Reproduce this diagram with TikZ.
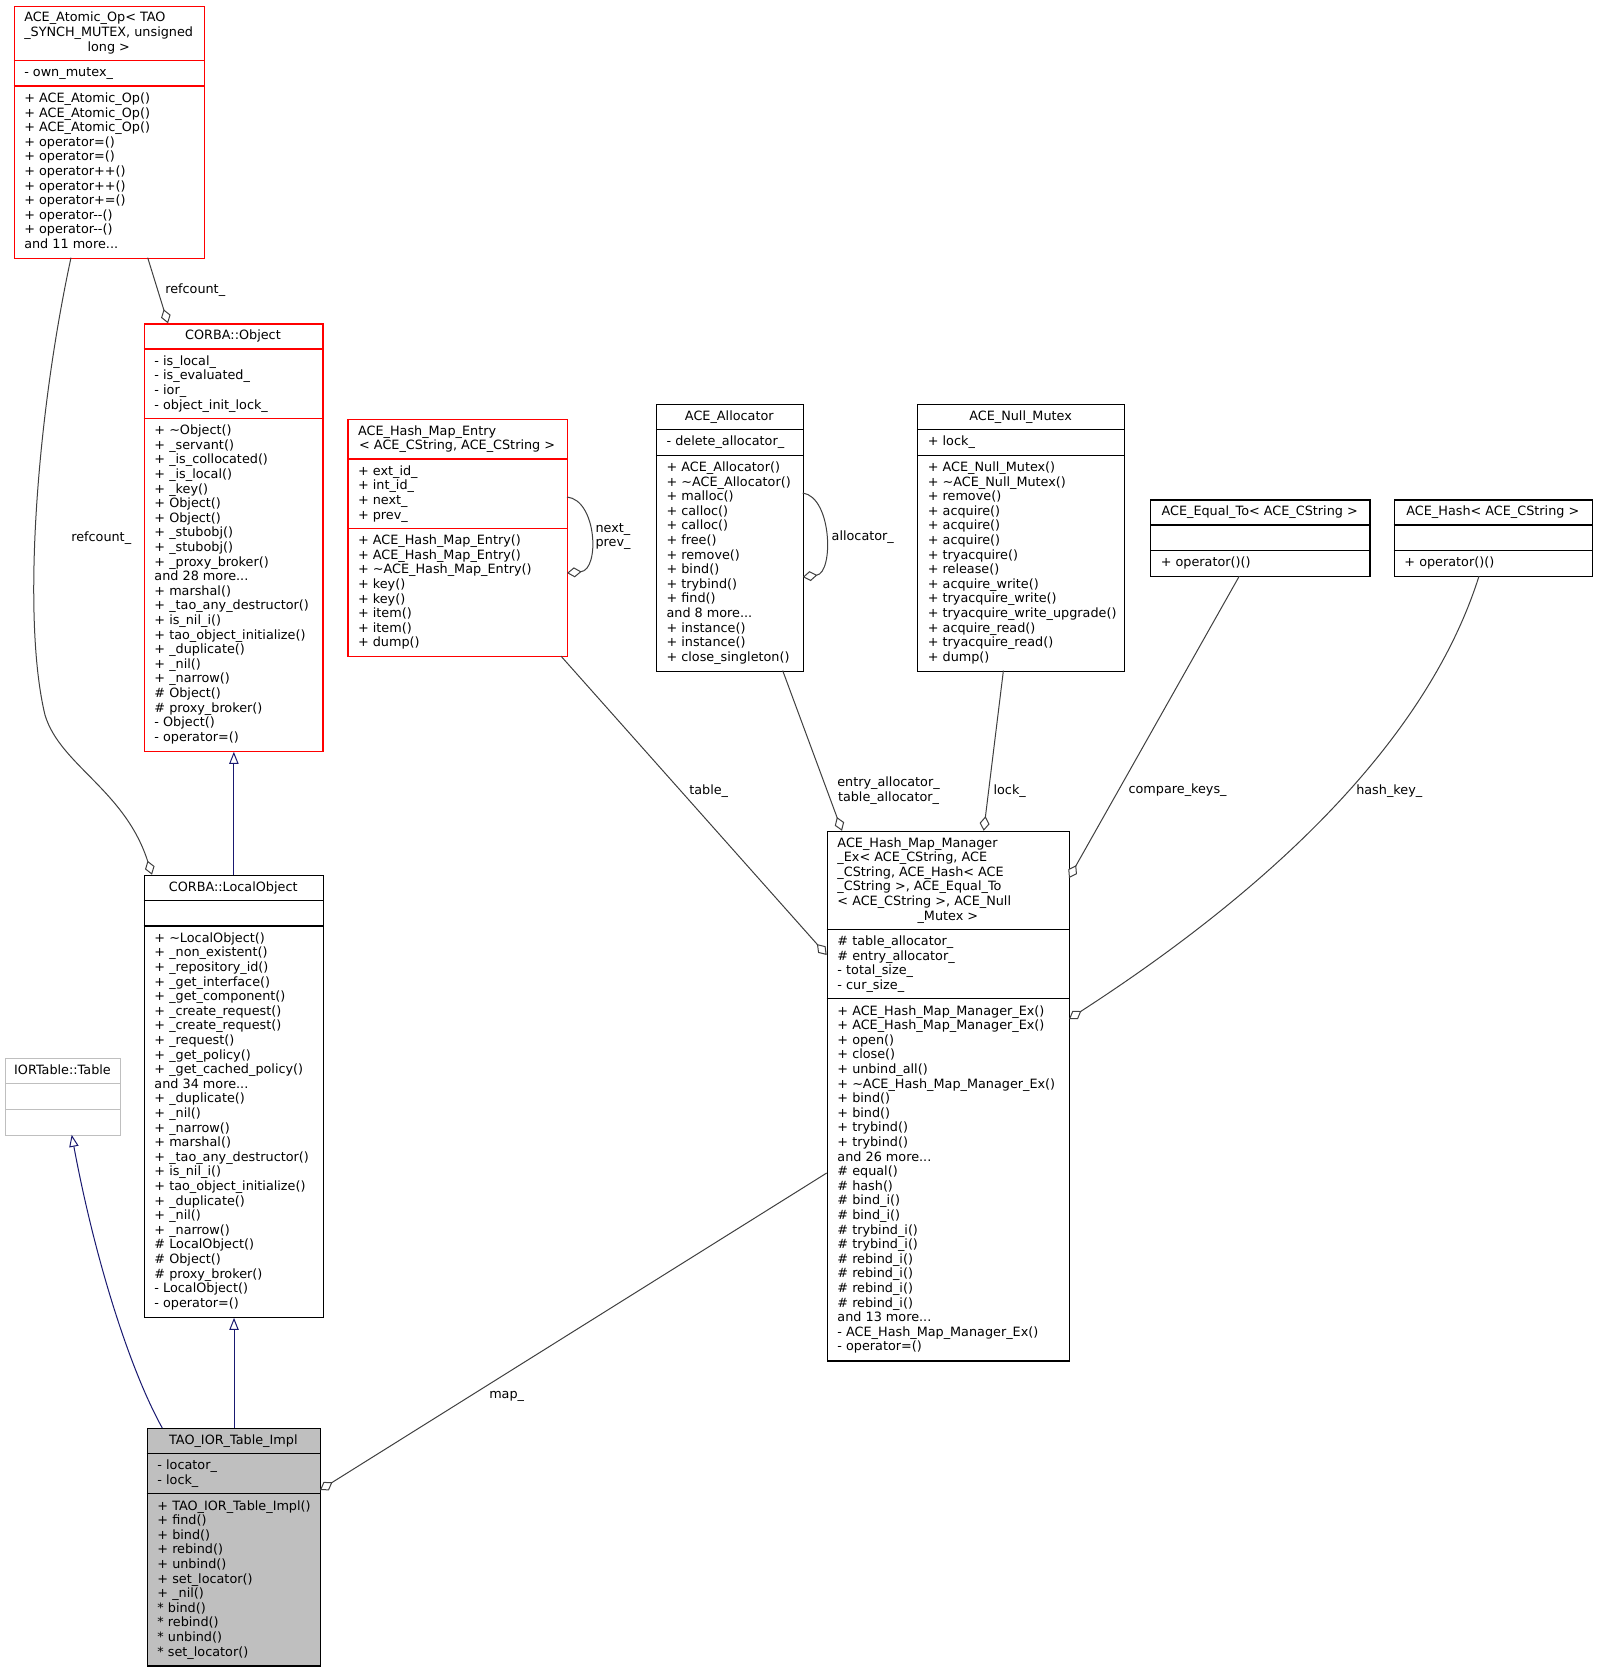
\documentclass[tikz,border=0pt]{standalone}
\usepackage{fontspec}
\setmainfont{DejaVu Sans}
\usetikzlibrary{arrows.meta}
\definecolor{edgegray}{HTML}{404040}
\definecolor{inhblue}{HTML}{191970}
\definecolor{boxgray}{HTML}{BFBFBF}
\definecolor{boxred}{HTML}{FF0000}
\newcommand\lines[1]{\begin{tabular}[t]{@{}l@{}}#1\end{tabular}}
\newcommand\clines[1]{\begin{tabular}[t]{@{}c@{}}#1\end{tabular}}
\newcommand\frm[6]{\node[#2, anchor=north west, minimum width=#5*0.75pt, minimum height=#6*0.75pt] (#1) at (#3,#4) {};}
\begin{document}
\begin{tikzpicture}[x=0.75pt,y=-0.75pt,
  redbox/.style={draw=boxred, line width=1pt, inner sep=0},
  blackbox/.style={draw=black, line width=1pt, inner sep=0},
  graybox/.style={draw=boxgray, line width=1pt, inner sep=0},
  taobox/.style={draw=black, fill=boxgray, line width=1pt, inner sep=0},
  redsep/.style={draw=boxred, line width=1pt},
  blacksep/.style={draw=black, line width=1pt},
  graysep/.style={draw=boxgray, line width=1pt},
  txt/.style={inner sep=0, font=\fontsize{9.6}{10.95}\selectfont},
  agg/.style={draw=edgegray, line width=0.75pt, -{Diamond[length=11pt,width=7.5pt,fill=white]}},
  inh/.style={draw=inhblue, line width=0.75pt, -{Triangle[length=9pt,width=7pt,fill=white]}}]
\fill[white] (0,0) rectangle (1597,1672);
\useasboundingbox (0,0) rectangle (1597,1672);

% ---------- ACE_Atomic_Op ----------
\frm{atomic}{redbox}{13.5}{5.7}{190.5}{252}
\draw[redsep] (13.5,60.5) -- (204,60.5);
\draw[redsep] (13.5,86.1) -- (204,86.1);
\node[txt, anchor=base west] (atomicT) at (24,21.9) {\lines{ACE\_Atomic\_Op< TAO\\\_SYNCH\_MUTEX, unsigned}};
\node[txt, anchor=base] (atomicT2) at (108.75,51.1) {long >};
\node[txt, anchor=base west] (atomicA) at (24,76.8) {- own\_mutex\_};
\node[txt, anchor=base west] (atomicO) at (24,102.4) {\lines{+ ACE\_Atomic\_Op()\\+ ACE\_Atomic\_Op()\\+ ACE\_Atomic\_Op()\\+ operator=()\\+ operator=()\\+ operator++()\\+ operator++()\\+ operator+=()\\+ operator-{}-()\\+ operator-{}-()\\and 11 more...}};

% ---------- CORBA::Object ----------
\frm{object}{redbox}{143.7}{323.3}{178.6}{427.2}
\draw[redsep] (143.7,348.9) -- (322.3,348.9);
\draw[redsep] (143.7,418.3) -- (322.3,418.3);
\node[txt, anchor=base] (objectT) at (233,339.6) {CORBA::Object};
\node[txt, anchor=base west] (objectA) at (154.2,365.2) {\lines{- is\_local\_\\- is\_evaluated\_\\- ior\_\\- object\_init\_lock\_}};
\node[txt, anchor=base west] (objectO) at (154.2,434.6) {\lines{+ \textasciitilde Object()\\+ \_servant()\\+ \_is\_collocated()\\+ \_is\_local()\\+ \_key()\\+ Object()\\+ Object()\\+ \_stubobj()\\+ \_stubobj()\\+ \_proxy\_broker()\\and 28 more...\\+ marshal()\\+ \_tao\_any\_destructor()\\+ is\_nil\_i()\\+ tao\_object\_initialize()\\+ \_duplicate()\\+ \_nil()\\+ \_narrow()\\\# Object()\\\# proxy\_broker()\\- Object()\\- operator=()}};

% ---------- ACE_Hash_Map_Entry ----------
\frm{hme}{redbox}{347.3}{418.7}{219.7}{237.4}
\draw[redsep] (347.3,458.9) -- (567,458.9);
\draw[redsep] (347.3,528.3) -- (567,528.3);
\node[txt, anchor=base west] (hmeT) at (357.8,435) {ACE\_Hash\_Map\_Entry};
\node[txt, anchor=base] (hmeT2) at (457.15,449.6) {< ACE\_CString, ACE\_CString >};
\node[txt, anchor=base west] (hmeA) at (357.8,475.2) {\lines{+ ext\_id\_\\+ int\_id\_\\+ next\_\\+ prev\_}};
\node[txt, anchor=base west] (hmeO) at (357.8,544.6) {\lines{+ ACE\_Hash\_Map\_Entry()\\+ ACE\_Hash\_Map\_Entry()\\+ \textasciitilde ACE\_Hash\_Map\_Entry()\\+ key()\\+ key()\\+ item()\\+ item()\\+ dump()}};

% ---------- ACE_Allocator ----------
\frm{alloc}{blackbox}{655.8}{404}{147}{266.6}
\draw[blacksep] (655.8,429.6) -- (802.8,429.6);
\draw[blacksep] (655.8,455.2) -- (802.8,455.2);
\node[txt, anchor=base] (allocT) at (729.3,420.3) {ACE\_Allocator};
\node[txt, anchor=base west] (allocA) at (666.3,445.9) {- delete\_allocator\_};
\node[txt, anchor=base west] (allocO) at (666.3,471.5) {\lines{+ ACE\_Allocator()\\+ \textasciitilde ACE\_Allocator()\\+ malloc()\\+ calloc()\\+ calloc()\\+ free()\\+ remove()\\+ bind()\\+ trybind()\\+ find()\\and 8 more...\\+ instance()\\+ instance()\\+ close\_singleton()}};

% ---------- ACE_Null_Mutex ----------
\frm{mutex}{blackbox}{917.1}{404}{207}{266.6}
\draw[blacksep] (917.1,429.6) -- (1124.1,429.6);
\draw[blacksep] (917.1,455.2) -- (1124.1,455.2);
\node[txt, anchor=base] (mutexT) at (1020.6,420.3) {ACE\_Null\_Mutex};
\node[txt, anchor=base west] (mutexA) at (927.6,445.9) {+ lock\_};
\node[txt, anchor=base west] (mutexO) at (927.6,471.5) {\lines{+ ACE\_Null\_Mutex()\\+ \textasciitilde ACE\_Null\_Mutex()\\+ remove()\\+ acquire()\\+ acquire()\\+ acquire()\\+ tryacquire()\\+ release()\\+ acquire\_write()\\+ tryacquire\_write()\\+ tryacquire\_write\_upgrade()\\+ acquire\_read()\\+ tryacquire\_read()\\+ dump()}};

% ---------- ACE_Equal_To ----------
\frm{equal}{blackbox}{1150}{499.3}{219.3}{76.8}
\draw[blacksep] (1150,524.9) -- (1369.3,524.9);
\draw[blacksep] (1150,550.5) -- (1369.3,550.5);
\node[txt, anchor=base] (equalT) at (1259.65,515.6) {ACE\_Equal\_To< ACE\_CString >};
\node[txt, anchor=base west] (equalO) at (1160.5,566.8) {+ operator()()};

% ---------- ACE_Hash ----------
\frm{hash}{blackbox}{1393.7}{499.3}{198.3}{76.8}
\draw[blacksep] (1393.7,524.9) -- (1592,524.9);
\draw[blacksep] (1393.7,550.5) -- (1592,550.5);
\node[txt, anchor=base] (hashT) at (1492.85,515.6) {ACE\_Hash< ACE\_CString >};
\node[txt, anchor=base west] (hashO) at (1404.2,566.8) {+ operator()()};

% ---------- ACE_Hash_Map_Manager_Ex ----------
\frm{hmm}{blackbox}{826.7}{830.8}{242.3}{529.4}
\draw[blacksep] (826.7,929.4) -- (1069,929.4);
\draw[blacksep] (826.7,998.8) -- (1069,998.8);
\node[txt, anchor=base west] (hmmT) at (837.2,847.1) {\lines{ACE\_Hash\_Map\_Manager\\\_Ex< ACE\_CString, ACE\\\_CString, ACE\_Hash< ACE\\\_CString >, ACE\_Equal\_To\\< ACE\_CString >, ACE\_Null}};
\node[txt, anchor=base] (hmmT2) at (947.85,920.1) {\_Mutex >};
\node[txt, anchor=base west] (hmmA) at (837.2,945.7) {\lines{\# table\_allocator\_\\\# entry\_allocator\_\\- total\_size\_\\- cur\_size\_}};
\node[txt, anchor=base west] (hmmO) at (837.2,1015.1) {\lines{+ ACE\_Hash\_Map\_Manager\_Ex()\\+ ACE\_Hash\_Map\_Manager\_Ex()\\+ open()\\+ close()\\+ unbind\_all()\\+ \textasciitilde ACE\_Hash\_Map\_Manager\_Ex()\\+ bind()\\+ bind()\\+ trybind()\\+ trybind()\\and 26 more...\\\# equal()\\\# hash()\\\# bind\_i()\\\# bind\_i()\\\# trybind\_i()\\\# trybind\_i()\\\# rebind\_i()\\\# rebind\_i()\\\# rebind\_i()\\\# rebind\_i()\\and 13 more...\\- ACE\_Hash\_Map\_Manager\_Ex()\\- operator=()}};

% ---------- CORBA::LocalObject ----------
\frm{local}{blackbox}{143.7}{874.7}{179}{441.8}
\draw[blacksep] (143.7,900.3) -- (322.7,900.3);
\draw[blacksep] (143.7,925.9) -- (322.7,925.9);
\node[txt, anchor=base] (localT) at (233.2,891) {CORBA::LocalObject};
\node[txt, anchor=base west] (localO) at (154.2,942.2) {\lines{+ \textasciitilde LocalObject()\\+ \_non\_existent()\\+ \_repository\_id()\\+ \_get\_interface()\\+ \_get\_component()\\+ \_create\_request()\\+ \_create\_request()\\+ \_request()\\+ \_get\_policy()\\+ \_get\_cached\_policy()\\and 34 more...\\+ \_duplicate()\\+ \_nil()\\+ \_narrow()\\+ marshal()\\+ \_tao\_any\_destructor()\\+ is\_nil\_i()\\+ tao\_object\_initialize()\\+ \_duplicate()\\+ \_nil()\\+ \_narrow()\\\# LocalObject()\\\# Object()\\\# proxy\_broker()\\- LocalObject()\\- operator=()}};

% ---------- IORTable::Table ----------
\frm{iortable}{graybox}{5}{1058}{115}{76.8}
\draw[graysep] (5,1083.6) -- (120,1083.6);
\draw[graysep] (5,1109.2) -- (120,1109.2);
\node[txt, anchor=base] (iortableT) at (62.5,1074.3) {IORTable::Table};

% ---------- TAO_IOR_Table_Impl ----------
\frm{tao}{taobox}{146.7}{1428}{173.3}{237.4}
\draw[blacksep] (146.7,1453.6) -- (320,1453.6);
\draw[blacksep] (146.7,1493.8) -- (320,1493.8);
\node[txt, anchor=base] (taoT) at (233.35,1444.3) {TAO\_IOR\_Table\_Impl};
\node[txt, anchor=base west] (taoA) at (157.2,1469.9) {\lines{- locator\_\\- lock\_}};
\node[txt, anchor=base west] (taoO) at (157.2,1510.1) {\lines{+ TAO\_IOR\_Table\_Impl()\\+ find()\\+ bind()\\+ rebind()\\+ unbind()\\+ set\_locator()\\+ \_nil()\\{*} bind()\\{*} rebind()\\{*} unbind()\\{*} set\_locator()}};

% ---------- connector end points ----------
\coordinate (rc1s) at (147.7,257.7);
\coordinate (rc1e) at (168,323.3);
\coordinate (rc2s) at (71,257.7);
\coordinate (rc2e) at (152,874.7);
\coordinate (npS) at (567,497);
\coordinate (npE) at (567,573);
\coordinate (alS) at (802.8,493);
\coordinate (alE) at (802.8,577);
\coordinate (tblS) at (561,656.1);
\coordinate (tblE) at (826.7,955);
\coordinate (eaS) at (782.7,670.6);
\coordinate (eaE) at (842,830.8);
\coordinate (lkS) at (1003.4,670.6);
\coordinate (lkE) at (983.7,830.8);
\coordinate (ckS) at (1239.3,576.1);
\coordinate (ckE) at (1069,878);
\coordinate (hkS) at (1479,576.1);
\coordinate (hkE) at (1069,1019);
\coordinate (mapS) at (826.7,1173);
\coordinate (mapE) at (320,1490);
\coordinate (iorS) at (162.3,1428);
\coordinate (iorE) at (71.7,1134.8);

% ---------- inheritance ----------
\draw[inh] (local.north) -- (local.north |- object.south);
\draw[inh] (tao.north) -- (tao.north |- local.south);
\draw[inh] (iorS) .. controls (130,1370) and (95,1260) .. (iorE);

% ---------- aggregations ----------
\draw[agg] (rc1s) -- (rc1e);
\draw[agg] (rc2s) .. controls (36,420) and (22,620) .. (45,715) .. controls (60,765) and (125,790) .. (rc2e);
\draw[agg] (npS) .. controls (597,500) and (600,570) .. (npE);
\draw[agg] (alS) .. controls (832,497) and (834,573) .. (alE);
\draw[agg] (tblS) -- (tblE);
\draw[agg] (eaS) -- (eaE);
\draw[agg] (lkS) -- (lkE);
\draw[agg] (ckS) -- (ckE);
\draw[agg] (hkS) .. controls (1440,700) and (1330,850) .. (hkE);
\draw[agg] (mapS) -- (mapE);

% ---------- labels ----------
\node[txt, anchor=base west] (lrc1) at (165,293.3) {refcount\_};
\node[txt, anchor=base west] (lrc2) at (71,541) {refcount\_};
\node[txt, anchor=base] (lnp) at (613,532) {\clines{next\_\\prev\_}};
\node[txt, anchor=base west] (lalloc) at (831.4,540.7) {allocator\_};
\node[txt, anchor=base west] (ltable) at (689,794) {table\_};
\node[txt, anchor=base] (lea) at (888.5,786.8) {\clines{entry\_allocator\_\\table\_allocator\_}};
\node[txt, anchor=base west] (llock) at (993.3,794.4) {lock\_};
\node[txt, anchor=base west] (lcmp) at (1128.3,793.7) {compare\_keys\_};
\node[txt, anchor=base west] (lhash) at (1356,794) {hash\_key\_};
\node[txt, anchor=base west] (lmap) at (489,1398) {map\_};
\end{tikzpicture}
\end{document}
